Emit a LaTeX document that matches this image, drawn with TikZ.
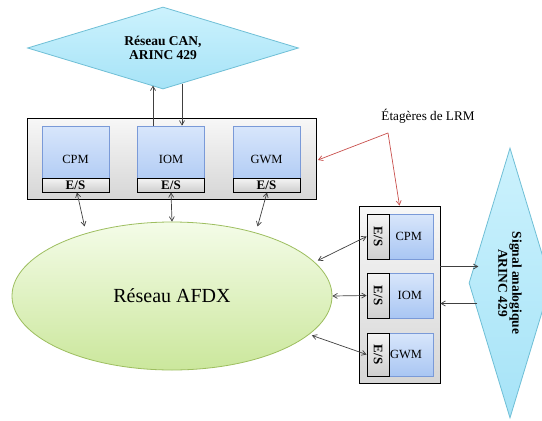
\documentclass[tikz,border=0pt]{standalone}
\usepackage{fontspec}
\setmainfont{Liberation Serif}
\usetikzlibrary{shapes.geometric,arrows.meta,calc}
\definecolor{dmdfillA}{HTML}{CCF2FD}
\definecolor{dmdfillB}{HTML}{A6E3F7}
\definecolor{dmdline}{HTML}{6FBFD6}
\definecolor{modA}{HTML}{D8E6FB}
\definecolor{modB}{HTML}{A9C6F3}
\definecolor{modline}{HTML}{7A9AD8}
\definecolor{ellA}{HTML}{F4FCE8}
\definecolor{ellB}{HTML}{CBE79C}
\definecolor{ellline}{HTML}{9DBE5F}
\definecolor{redline}{HTML}{C9504D}
\definecolor{conn}{HTML}{404040}
\tikzset{
  dmd/.style={diamond, aspect=3.3, draw=dmdline, line width=0.8pt, inner sep=0pt,
    top color=dmdfillA, bottom color=dmdfillB, align=center,
    font=\fontsize{13.5}{14}\selectfont\bfseries},
  shelf/.style={rectangle, draw=black, line width=0.8pt, top color=gray!6, bottom color=gray!32, inner sep=0pt},
  modbox/.style={rectangle, draw=modline, line width=0.8pt, top color=modA, bottom color=modB,
    inner sep=0pt, font=\fontsize{12.5}{14}\selectfont},
  esbox/.style={rectangle, draw=black, line width=0.8pt, top color=gray!8, bottom color=gray!38,
    inner sep=0pt, font=\fontsize{13}{14}\selectfont\bfseries},
  lbl/.style={inner sep=0pt, font=\fontsize{13.2}{14}\selectfont},
  conarrow/.style={draw=conn, line width=0.7pt, -{Straight Barb[angle=60:5pt]}},
  biarrow/.style={draw=conn, line width=0.7pt, {Straight Barb[angle=60:5pt]}-{Straight Barb[angle=60:5pt]}},
  redarrow/.style={draw=redline, line width=0.7pt, -{Straight Barb[angle=60:5pt]}},
}
\begin{document}
\begin{tikzpicture}[x=1pt, y=-1pt]
\useasboundingbox (0,0) rectangle (542,421);
\fill[white] (0,0) rectangle (542,421);

% top diamond
\node[dmd, minimum width=271pt, minimum height=82pt] (can) at (163,48) {Réseau CAN,\\ARINC 429};

% top shelf
\node[shelf, minimum width=289pt, minimum height=81pt] (shelfT) at (171.5,158.5) {};
\node[modbox, minimum width=67pt, minimum height=66pt] (cpmT) at (75.5,159) {CPM};
\node[modbox, minimum width=67pt, minimum height=66pt] (iomT) at (171,159) {IOM};
\node[modbox, minimum width=67pt, minimum height=66pt] (gwmT) at (266.5,159) {GWM};
\node[esbox, minimum width=67pt, minimum height=14pt] (esC) at (75.5,185) {E/S};
\node[esbox, minimum width=67pt, minimum height=14pt] (esI) at (171,185) {E/S};
\node[esbox, minimum width=67pt, minimum height=14pt] (esG) at (266.5,185) {E/S};

% AFDX ellipse
\node[ellipse, draw=ellline, line width=0.8pt, top color=ellA, bottom color=ellB,
  minimum width=320pt, minimum height=148pt, inner sep=0pt,
  font=\fontsize{20}{22}\selectfont] (afdx) at (172,296) {Réseau AFDX};

% right shelf
\node[shelf, minimum width=81pt, minimum height=177pt] (shelfR) at (399.5,294.5) {};
\node[modbox, minimum width=66pt, minimum height=45pt, text width=44pt, align=right] (cpmR) at (400,236.5) {CPM};
\node[modbox, minimum width=66pt, minimum height=45pt, text width=44pt, align=right] (iomR) at (400,295.5) {IOM\hspace*{3pt}};
\node[modbox, minimum width=66pt, minimum height=43pt, text width=44pt, align=right] (gwmR) at (400,354.5) {GWM};
\node[esbox, minimum width=45pt, minimum height=22pt, rotate=-90] (esRC) at (378,236.5) {E/S};
\node[esbox, minimum width=45pt, minimum height=22pt, rotate=-90] (esRI) at (378,295.5) {E/S};
\node[esbox, minimum width=43pt, minimum height=22pt, rotate=-90] (esRG) at (378,354.5) {E/S};

% right diamond
\node[dmd, rotate=-90, minimum width=270pt, minimum height=82pt] (sig) at (510,283) {Signal analogique\\ARINC 429};

% label
\node[lbl] (etag) at (428,116) {Étagères de LRM};
\coordinate (etagp) at (388,133);

% connectors
\draw[conarrow] ([xshift=-18pt]iomT.north) -- ++(0,-40);
\draw[conarrow] ([xshift=11pt,yshift=42pt]iomT.north) -- ([xshift=11pt]iomT.north);

\draw[biarrow] ([xshift=1.5pt]esC.south) -- ($(afdx.center)!0.94!(79,222)$);
\draw[biarrow] (esI.south) -- (afdx.north);
\draw[biarrow] ([xshift=0.5pt]esG.south) -- ($(afdx.center)!0.94!(263,222)$);

\draw[biarrow] (esRC.south) -- ($(afdx.center)!0.985!(320,260)$);
\draw[biarrow] (esRI.south) -- (afdx.east);
\draw[biarrow] (esRG.south) -- ($(afdx.center)!0.985!(314,336)$);

\draw[conarrow] ([yshift=28pt]shelfR.east) -- ([yshift=28pt,xshift=38pt]shelfR.east);
\draw[conarrow] ([yshift=-9pt,xshift=37pt]shelfR.east) -- ([yshift=-9pt]shelfR.east);

\draw[redarrow] (etagp) -- ([xshift=1.5pt,yshift=-1.5pt]shelfT.east);
\draw[redarrow] (etagp) -- (shelfR.north);
\end{tikzpicture}
\end{document}
